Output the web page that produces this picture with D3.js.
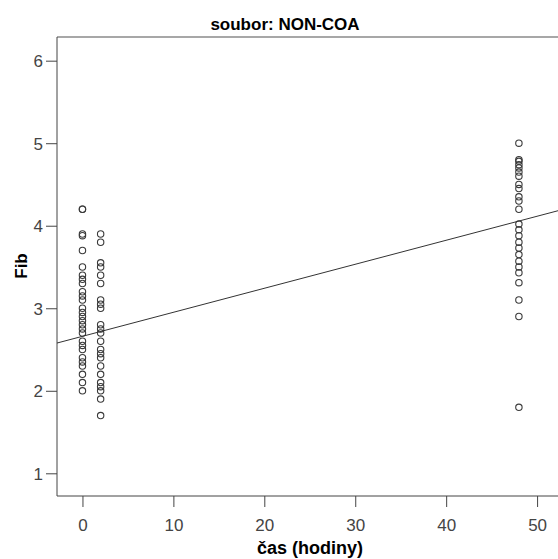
<!DOCTYPE html>
<html>
<head>
<meta charset="utf-8">
<script src="https://cdn.jsdelivr.net/npm/d3@7"></script>
<style>
  body { margin: 0; background: #fff; }
  text { font-family: "Liberation Sans", Arial, sans-serif; }
</style>
</head>
<body>
<div id="chart"></div>
<script>
// values (Fib per time point)
const times = [0, 2, 48];
const fibAt0 = [4.2, 4.2, 3.9, 3.88, 3.7, 3.5, 3.4, 3.35, 3.3, 3.2, 3.15, 3.1, 3.0, 2.95, 2.9, 2.85, 2.8, 2.75, 2.7, 2.6, 2.55, 2.5, 2.4, 2.35, 2.3, 2.2, 2.1, 2.0];
const fibAt2 = [3.9, 3.8, 3.55, 3.5, 3.4, 3.3, 3.1, 3.05, 3.0, 2.8, 2.75, 2.7, 2.6, 2.5, 2.45, 2.4, 2.3, 2.2, 2.1, 2.05, 2.0, 1.9, 1.7];
const fibAt48 = [5.0, 4.8, 4.78, 4.74, 4.7, 4.65, 4.6, 4.5, 4.45, 4.35, 4.3, 4.2, 4.02, 3.95, 3.88, 3.8, 3.73, 3.65, 3.57, 3.5, 3.43, 3.31, 3.1, 2.9, 1.8];
const xTicks = [0, 10, 20, 30, 40, 50];
const yTicks = [1, 2, 3, 4, 5, 6];
// fit line Fib = a + b * time
const fitIntercept = 2.66;
const fitSlope = 0.0291;

const width = 558, height = 559;
const plot = { left: 57, top: 37, right: 558, bottom: 496 };

const x = d3.scaleLinear().domain([-2.8, 52.3]).range([plot.left, plot.right]);
const y = d3.scaleLinear().domain([0.725, 6.287]).range([plot.bottom, plot.top]);

const svg = d3.select('#chart')
    .append('svg')
    .attr('width', width)
    .attr('height', height);

const points = [];
[fibAt0, fibAt2, fibAt48].forEach((vals, i) => {
    vals.forEach(v => points.push({ t: times[i], fib: v }));
});

// frame: top lighter, axes darker
svg.append('line')
    .attr('x1', plot.left).attr('x2', plot.right)
    .attr('y1', plot.top).attr('y2', plot.top)
    .style('stroke', '#8a8a8a').style('stroke-width', 1.5);

const xAxis = d3.axisBottom(x).tickValues(xTicks).tickFormat(d3.format('d')).tickSize(11).tickSizeOuter(0);
const yAxis = d3.axisLeft(y).tickValues(yTicks).tickFormat(d3.format('d')).tickSize(11).tickSizeOuter(0);

const gx = svg.append('g')
    .attr('transform', `translate(0,${plot.bottom})`)
    .call(xAxis);
gx.select('.domain').remove();
gx.append('line')
    .attr('x1', plot.left).attr('x2', plot.right)
    .style('stroke', '#444');

const gy = svg.append('g')
    .attr('transform', `translate(${plot.left},0)`)
    .call(yAxis);
gy.select('.domain').remove();
gy.append('line')
    .attr('y1', plot.top).attr('y2', plot.bottom)
    .style('stroke', '#444');

[gx, gy].forEach(g => {
    g.selectAll('.tick line').style('stroke', '#444');
    g.selectAll('.tick text')
        .style('font-size', '17px')
        .style('font-family', '"Liberation Sans", Arial, sans-serif')
        .style('fill', '#444');
});
gx.selectAll('.tick text').attr('dy', null).attr('y', 35);
gy.selectAll('.tick text').attr('x', -14).attr('dy', '0.35em');

// points
svg.append('g')
    .selectAll('circle')
    .data(points)
    .enter()
    .append('circle')
    .attr('cx', d => x(d.t))
    .attr('cy', d => y(d.fib))
    .attr('r', 3.2)
    .style('fill', 'none')
    .style('stroke', '#3a3a3a')
    .style('stroke-width', 1.1);

// fit line across the plot
const [x0, x1] = x.domain();
svg.append('line')
    .attr('x1', x(x0)).attr('y1', y(fitIntercept + fitSlope * x0))
    .attr('x2', x(x1)).attr('y2', y(fitIntercept + fitSlope * x1))
    .style('stroke', '#333')
    .style('stroke-width', 1);

// titles
svg.append('text')
    .attr('x', 285).attr('y', 30)
    .attr('text-anchor', 'middle')
    .style('font-size', '17px')
    .style('font-weight', 'bold')
    .text('soubor: NON-COA');

svg.append('text')
    .attr('x', 310).attr('y', 554)
    .attr('text-anchor', 'middle')
    .style('font-size', '18px')
    .style('font-weight', 'bold')
    .text('čas (hodiny)');

svg.append('text')
    .attr('transform', 'translate(27,266) rotate(-90)')
    .attr('text-anchor', 'middle')
    .style('font-size', '17px')
    .style('font-weight', 'bold')
    .text('Fib');
</script>
</body>
</html>
